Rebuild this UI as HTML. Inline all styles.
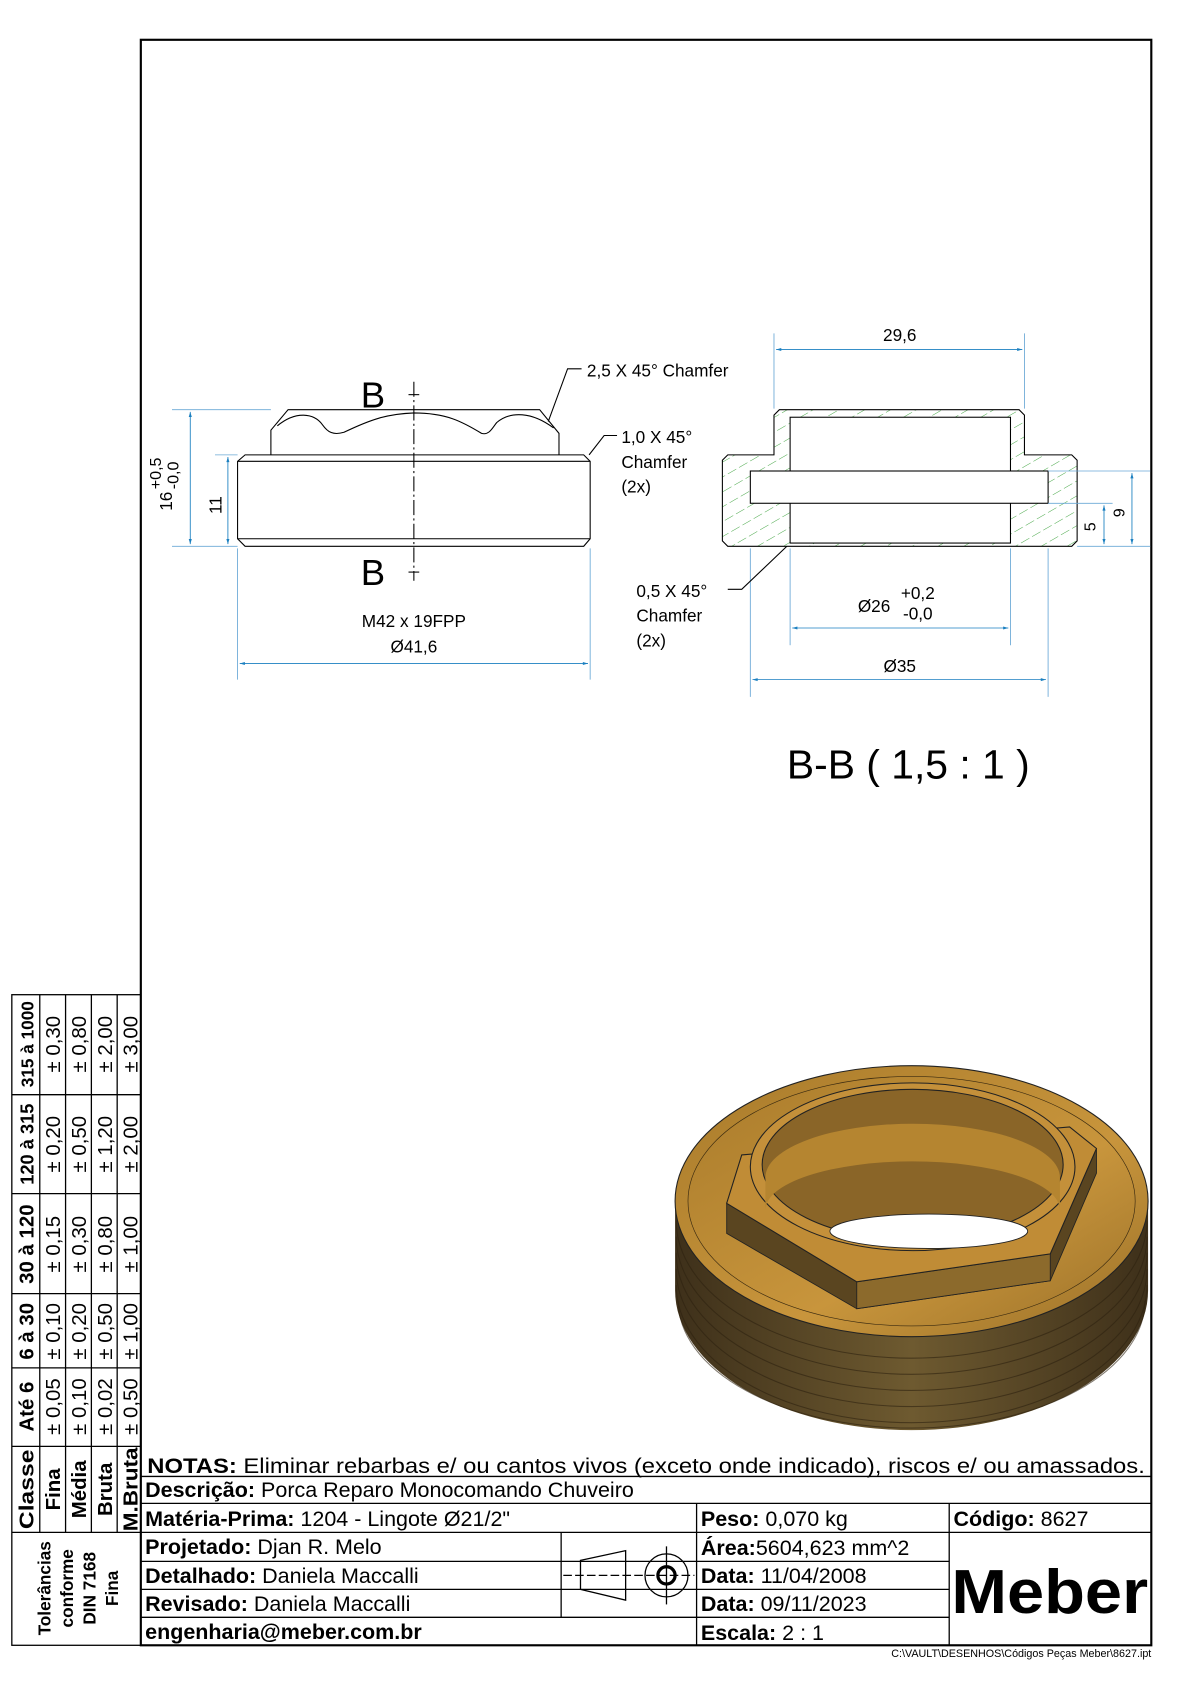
<!DOCTYPE html>
<html><head><meta charset="utf-8"><style>
html,body{margin:0;padding:0;background:#fff;}
svg{display:block;}
text{font-family:"Liberation Sans",Arial,sans-serif;}
</style></head><body>
<svg width="1190" height="1684" viewBox="0 0 1107 1566" preserveAspectRatio="none" xmlns="http://www.w3.org/2000/svg">
<defs>
<pattern id="h" patternUnits="userSpaceOnUse" width="12" height="12" patternTransform="rotate(60)">
<line x1="0" y1="0" x2="0" y2="12" stroke="#2a9a2a" stroke-width="0.8" stroke-dasharray="6 3"/>
</pattern>
<linearGradient id="side" x1="0" x2="1" y1="0" y2="0">
<stop offset="0" stop-color="#3e301a"/><stop offset="0.5" stop-color="#6e5a30"/><stop offset="1" stop-color="#3e301a"/>
</linearGradient>
<linearGradient id="top" x1="0" x2="1" y1="0" y2="1">
<stop offset="0" stop-color="#a87a2a"/><stop offset="0.6" stop-color="#c8953c"/><stop offset="1" stop-color="#9a7028"/>
</linearGradient>
<marker id="a" viewBox="0 0 10 10" refX="10" refY="5" markerWidth="8" markerHeight="6" orient="auto-start-reverse"><path d="M0 2L10 5L0 8z" fill="#1a7fc0"/></marker>
</defs>

<rect x="131" y="37" width="940" height="1493" fill="none" stroke="#000" stroke-width="2"/>

<!-- Front view -->
<g fill="none" stroke="#000" stroke-width="1">
<path d="M252 423 L252 400 L268 381 L502 381 L520 403 L520 423"/>
<path d="M258 396 C275 382 292 384 300 395 C305 402 310 405 320 402 C345 390 360 385 385 384 C415 384 430 392 448 403 C455 405 458 398 462 393 C475 382 495 383 515 398"/>
<path d="M228 423 L543 423 L549 429 L549 501 L543 508 L228 508 L221 501 L221 429 Z"/>
<line x1="221" y1="429" x2="549" y2="429"/>
<line x1="221" y1="501" x2="549" y2="501"/>
</g>
<line x1="385" y1="355" x2="385" y2="540" stroke="#000" stroke-width="1" stroke-dasharray="14 3 2 3"/>
<line x1="380" y1="367" x2="390" y2="367" stroke="#000"/>
<line x1="380" y1="532" x2="390" y2="532" stroke="#000"/>
<text x="347" y="379" font-size="34" text-anchor="middle">B</text>
<text x="347" y="544" font-size="34" text-anchor="middle">B</text>

<g stroke="#6aa8d6" stroke-width="0.8">
<line x1="160" y1="381" x2="252" y2="381"/>
<line x1="160" y1="508" x2="221" y2="508"/>
<line x1="200" y1="423" x2="221" y2="423"/>
<line x1="221" y1="510" x2="221" y2="632"/>
<line x1="549" y1="510" x2="549" y2="632"/>
</g>
<g stroke="#1a7fc0" stroke-width="0.8" fill="none">
<line x1="177" y1="383" x2="177" y2="506" marker-start="url(#a)" marker-end="url(#a)"/>
<line x1="212" y1="425" x2="212" y2="506" marker-start="url(#a)" marker-end="url(#a)"/>
<line x1="223" y1="617" x2="547" y2="617" marker-start="url(#a)" marker-end="url(#a)"/>
</g>
<text transform="translate(160,475) rotate(-90)" font-size="16">16</text>
<text transform="translate(150,455) rotate(-90)" font-size="15">+0,5</text>
<text transform="translate(166,455) rotate(-90)" font-size="15">-0,0</text>
<text transform="translate(206,478) rotate(-90)" font-size="16">11</text>
<text x="385" y="583" font-size="16" text-anchor="middle">M42 x 19FPP</text>
<text x="385" y="607" font-size="16" text-anchor="middle">Ø41,6</text>

<polyline points="510,392 528,343 541,343" fill="none" stroke="#000" stroke-width="1"/>
<text x="546" y="350" font-size="16">2,5 X 45° Chamfer</text>
<polyline points="548,423 562,405 574,405" fill="none" stroke="#000" stroke-width="1"/>
<text x="578" y="412" font-size="16">1,0 X 45°</text>
<text x="578" y="435" font-size="16">Chamfer</text>
<text x="578" y="458" font-size="16">(2x)</text>

<!-- Section view -->
<path d="M725 381 L948 381 L953 386 L953 423 L997 423 L1002 428 L1002 503 L997 508 L677 508 L672 503 L672 428 L677 423 L720 423 L720 386 Z" fill="url(#h)" stroke="#000" stroke-width="1"/>
<rect x="735" y="388" width="205" height="117" fill="#fff" stroke="#000" stroke-width="1"/>
<rect x="698" y="438" width="277" height="30" fill="#fff" stroke="#000" stroke-width="1"/>

<g stroke="#6aa8d6" stroke-width="0.8">
<line x1="720" y1="310" x2="720" y2="380"/>
<line x1="953" y1="310" x2="953" y2="380"/>
<line x1="975" y1="438" x2="1070" y2="438"/>
<line x1="975" y1="468" x2="1035" y2="468"/>
<line x1="1002" y1="508" x2="1070" y2="508"/>
<line x1="735" y1="510" x2="735" y2="600"/>
<line x1="940" y1="510" x2="940" y2="600"/>
<line x1="698" y1="510" x2="698" y2="648"/>
<line x1="975" y1="510" x2="975" y2="648"/>
</g>
<g stroke="#1a7fc0" stroke-width="0.8" fill="none">
<line x1="722" y1="325" x2="951" y2="325" marker-start="url(#a)" marker-end="url(#a)"/>
<line x1="1053" y1="440" x2="1053" y2="506" marker-start="url(#a)" marker-end="url(#a)"/>
<line x1="1027" y1="470" x2="1027" y2="506" marker-start="url(#a)" marker-end="url(#a)"/>
<line x1="737" y1="584" x2="938" y2="584" marker-start="url(#a)" marker-end="url(#a)"/>
<line x1="700" y1="632" x2="973" y2="632" marker-start="url(#a)" marker-end="url(#a)"/>
</g>
<text x="837" y="317" font-size="16" text-anchor="middle">29,6</text>
<text transform="translate(1019,494) rotate(-90)" font-size="15">5</text>
<text transform="translate(1046,481) rotate(-90)" font-size="15">9</text>
<text x="798" y="569" font-size="16">Ø26</text>
<text x="838" y="557" font-size="16">+0,2</text>
<text x="840" y="576" font-size="16">-0,0</text>
<text x="837" y="625" font-size="16" text-anchor="middle">Ø35</text>
<polyline points="677,548 690,548 732,508" fill="none" stroke="#000" stroke-width="1"/>
<text x="592" y="555" font-size="16">0,5 X 45°</text>
<text x="592" y="578" font-size="16">Chamfer</text>
<text x="592" y="601" font-size="16">(2x)</text>

<text x="732" y="724" font-size="38">B-B ( 1,5 : 1 )</text>

<!-- 3D render -->
<g>
<path d="M628 1117 L628 1200 A220 130 0 0 0 1068 1200 L1068 1117 Z" fill="url(#side)"/>
<g fill="none" stroke="#2e2210" stroke-width="1" opacity="0.6">
<path d="M629 1135 A219 128 0 0 0 1067 1135"/>
<path d="M629 1150 A219 128 0 0 0 1067 1150"/>
<path d="M629 1165 A219 128 0 0 0 1067 1165"/>
<path d="M629 1180 A219 128 0 0 0 1067 1180"/>
<path d="M629 1195 A219 128 0 0 0 1067 1195"/>
<path d="M631 1210 A217 118 0 0 0 1065 1210"/>
</g>
<ellipse cx="848" cy="1117" rx="220" ry="126" fill="url(#top)" stroke="#222" stroke-width="1"/>
<ellipse cx="848" cy="1117" rx="208" ry="116" fill="none" stroke="#3a2a10" stroke-width="0.6"/>
<!-- hex side band -->
<path d="M676 1119 L676 1147 L797 1217 L977 1191 L1020 1091 L1020 1068 L977 1166 L797 1192 Z" fill="#5a4520" stroke="#222" stroke-width="0.8"/>
<path d="M797 1192 L977 1166 L977 1191 L797 1217 Z" fill="#8c6a2c" stroke="#222" stroke-width="0.8"/>
<path d="M676 1119 L690 1074 L995 1048 L1020 1068 L977 1166 L797 1192 Z" fill="#c08c36" stroke="#222" stroke-width="1"/>
<ellipse cx="849" cy="1085" rx="151" ry="78" fill="#c4903a" stroke="#222" stroke-width="1"/>
<ellipse cx="849" cy="1083" rx="140" ry="70" fill="#8a6528" stroke="#222" stroke-width="1"/>
<path d="M712 1095 A137 50 0 0 1 986 1095 L986 1125 A137 45 0 0 0 712 1125 Z" fill="#b58530"/>
<ellipse cx="864" cy="1145" rx="92" ry="16" fill="#fff" stroke="#222" stroke-width="0.8"/>
</g>

<!-- Tolerance table -->
<g fill="none" stroke="#000" stroke-width="1.2">
<rect x="11" y="925" width="120" height="605"/>
<line x1="37" y1="925" x2="37" y2="1425"/>
<line x1="61" y1="925" x2="61" y2="1425"/>
<line x1="85" y1="925" x2="85" y2="1425"/>
<line x1="109" y1="925" x2="109" y2="1425"/>
<line x1="11" y1="1018" x2="131" y2="1018"/>
<line x1="11" y1="1110" x2="131" y2="1110"/>
<line x1="11" y1="1203" x2="131" y2="1203"/>
<line x1="11" y1="1272" x2="131" y2="1272"/>
<line x1="11" y1="1345" x2="131" y2="1345"/>
<line x1="11" y1="1425" x2="131" y2="1425"/>
</g>
<g font-size="19" text-anchor="middle">
<g font-weight="bold">
<text transform="translate(31,1385) rotate(-90)" textLength="74" lengthAdjust="spacingAndGlyphs">Classe</text>
<text transform="translate(31,1308) rotate(-90)">Até 6</text>
<text transform="translate(31,1238) rotate(-90)">6 à 30</text>
<text transform="translate(31,1157) rotate(-90)">30 à 120</text>
<text transform="translate(31,1064) rotate(-90)" font-size="17">120 à 315</text>
<text transform="translate(31,971) rotate(-90)" font-size="16">315 à 1000</text>
<text transform="translate(56,1385) rotate(-90)">Fina</text>
<text transform="translate(80,1385) rotate(-90)">Média</text>
<text transform="translate(104,1385) rotate(-90)">Bruta</text>
<text transform="translate(128,1385) rotate(-90)" textLength="78" lengthAdjust="spacingAndGlyphs">M.Bruta</text>
</g>
<text transform="translate(56,1308) rotate(-90)">± 0,05</text>
<text transform="translate(80,1308) rotate(-90)">± 0,10</text>
<text transform="translate(104,1308) rotate(-90)">± 0,02</text>
<text transform="translate(128,1308) rotate(-90)">± 0,50</text>
<text transform="translate(56,1238) rotate(-90)">± 0,10</text>
<text transform="translate(80,1238) rotate(-90)">± 0,20</text>
<text transform="translate(104,1238) rotate(-90)">± 0,50</text>
<text transform="translate(128,1238) rotate(-90)">± 1,00</text>
<text transform="translate(56,1157) rotate(-90)">± 0,15</text>
<text transform="translate(80,1157) rotate(-90)">± 0,30</text>
<text transform="translate(104,1157) rotate(-90)">± 0,80</text>
<text transform="translate(128,1157) rotate(-90)">± 1,00</text>
<text transform="translate(56,1064) rotate(-90)">± 0,20</text>
<text transform="translate(80,1064) rotate(-90)">± 0,50</text>
<text transform="translate(104,1064) rotate(-90)">± 1,20</text>
<text transform="translate(128,1064) rotate(-90)">± 2,00</text>
<text transform="translate(56,971) rotate(-90)">± 0,30</text>
<text transform="translate(80,971) rotate(-90)">± 0,80</text>
<text transform="translate(104,971) rotate(-90)">± 2,00</text>
<text transform="translate(128,971) rotate(-90)">± 3,00</text>
</g>
<g font-size="16" font-weight="bold" text-anchor="middle">
<text transform="translate(47,1477) rotate(-90)">Tolerâncias</text>
<text transform="translate(68,1477) rotate(-90)">conforme</text>
<text transform="translate(89,1477) rotate(-90)">DIN 7168</text>
<text transform="translate(110,1477) rotate(-90)">Fina</text>
</g>

<!-- Title block -->
<g stroke="#000" stroke-width="1.2" fill="none">
<line x1="131" y1="1373" x2="1071" y2="1373"/>
<line x1="131" y1="1398" x2="1071" y2="1398"/>
<line x1="131" y1="1425" x2="1071" y2="1425"/>
<line x1="131" y1="1452" x2="883" y2="1452"/>
<line x1="131" y1="1478" x2="883" y2="1478"/>
<line x1="131" y1="1504" x2="883" y2="1504"/>
<line x1="648" y1="1398" x2="648" y2="1530"/>
<line x1="883" y1="1398" x2="883" y2="1530"/>
<line x1="522" y1="1425" x2="522" y2="1504"/>
</g>
<g font-size="20">
<text x="137" y="1370" textLength="928" lengthAdjust="spacingAndGlyphs"><tspan font-weight="bold">NOTAS:</tspan> Eliminar rebarbas e/ ou cantos vivos (exceto onde indicado), riscos e/ ou amassados.</text>
<text x="135" y="1392"><tspan font-weight="bold">Descrição:</tspan> Porca Reparo Monocomando Chuveiro</text>
<text x="135" y="1419"><tspan font-weight="bold">Matéria-Prima:</tspan> 1204 - Lingote Ø21/2"</text>
<text x="135" y="1445"><tspan font-weight="bold">Projetado:</tspan> Djan R. Melo</text>
<text x="135" y="1472"><tspan font-weight="bold">Detalhado:</tspan> Daniela Maccalli</text>
<text x="135" y="1498"><tspan font-weight="bold">Revisado:</tspan> Daniela Maccalli</text>
<text x="135" y="1524" font-weight="bold">engenharia@meber.com.br</text>
<text x="652" y="1419"><tspan font-weight="bold">Peso:</tspan> 0,070 kg</text>
<text x="652" y="1446"><tspan font-weight="bold">Área:</tspan>5604,623 mm^2</text>
<text x="652" y="1472"><tspan font-weight="bold">Data:</tspan> 11/04/2008</text>
<text x="652" y="1498"><tspan font-weight="bold">Data:</tspan> 09/11/2023</text>
<text x="652" y="1525"><tspan font-weight="bold">Escala:</tspan> 2 : 1</text>
<text x="887" y="1419"><tspan font-weight="bold">Código:</tspan> 8627</text>
</g>
<text x="885" y="1500" font-size="58" font-weight="bold" textLength="183" lengthAdjust="spacingAndGlyphs">Meber</text>
<g stroke="#000" stroke-width="1.2" fill="none">
<path d="M540 1451 L582 1442 L582 1488 L540 1478 Z"/>
<line x1="524" y1="1465" x2="646" y2="1465" stroke-dasharray="8 3"/>
<circle cx="620" cy="1465" r="20"/>
<circle cx="620" cy="1465" r="8" stroke-width="3"/>
<line x1="620" y1="1438" x2="620" y2="1492"/>
</g>
<text x="1071" y="1541" font-size="10" text-anchor="end">C:\VAULT\DESENHOS\Códigos Peças Meber\8627.ipt</text>
</svg>
</body></html>
